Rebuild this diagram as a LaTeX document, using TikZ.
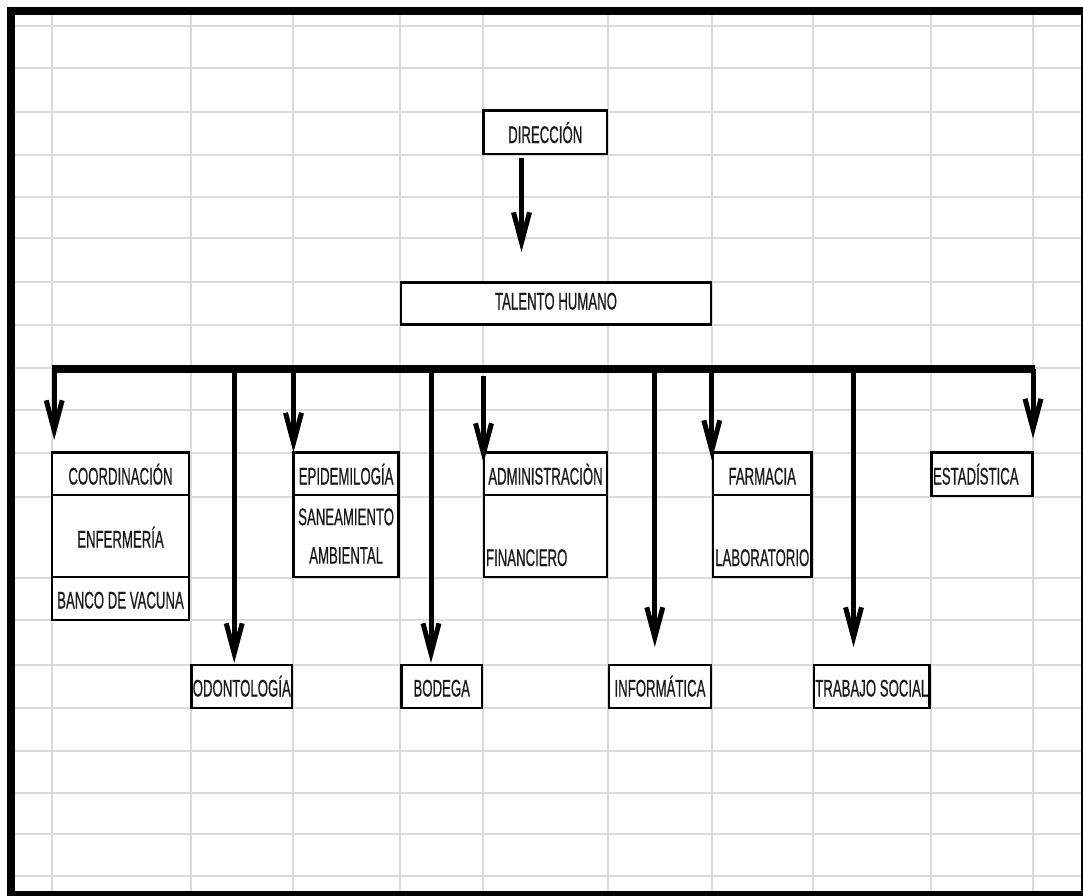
\documentclass[tikz,border=0pt]{standalone}
\usepackage{fontspec}
\newfontfamily\nar[FakeStretch=0.55,FakeBold=0.5]{Liberation Sans}
\usetikzlibrary{arrows.meta,calc}
\begin{document}
\begin{tikzpicture}[x=1pt,y=-1pt,
  gridline/.style={draw=black!14, line width=1.4pt},
  frame/.style={draw=black, line width=8pt},
  bx/.style={draw=black, line width=2.8pt, fill=white, inner sep=0pt, outer sep=0pt,
    anchor=north west, font=\nar\fontsize{24pt}{28.8pt}\selectfont, text=black!90},
  arr/.style={draw=black, line width=5pt, -{Straight Barb[length=30pt,width=16pt,sharp]}},
  bus/.style={draw=black, line width=7.5pt}
]
\useasboundingbox (0,0) rectangle (1083,895);
\clip (0,0) rectangle (1083,895);
\fill[white] (0,0) rectangle (1083,895);

% spreadsheet grid
\foreach \gx in {52,191,293,400,483,608,712,813,931,1033}
  \draw[gridline] (\gx,15) -- (\gx,891);
\foreach \gy in {26,68,112,155,197,238,282,325,368,410,453,497,578,620,665,708,751,793,834,876}
  \draw[gridline] (15,\gy) -- (1081,\gy);

% boxes
\node[bx, minimum width=123.5pt, text height=32.5pt, text depth=11pt] (dir) at (483.5,110.5) {DIRECCIÓN};
\node[bx, minimum width=310pt, text height=27pt, text depth=15pt] (th) at (401,282.5) {TALENTO HUMANO};

\node[bx, minimum width=137pt, text height=32pt, text depth=10.5pt] (coord) at (52,452.5) {COORDINACIÓN};
\node[bx, minimum width=137pt, text height=52.5pt, text depth=29.5pt] (enf) at (52,495) {ENFERMERÍA};
\node[bx, minimum width=137pt, text height=31.5pt, text depth=11.5pt] (banco) at (52,577) {BANCO DE VACUNA};

\node[bx, minimum width=104.7pt, text height=32pt, text depth=10.5pt] (epi) at (293.8,452.5) {EPIDEMILOGÍA};
\node[bx, minimum width=104.7pt, minimum height=82pt, align=center,
  font=\nar\fontsize{24pt}{38.5pt}\selectfont] (san) at (293.8,495) {SANEAMIENTO\\AMBIENTAL};

\node[bx, minimum width=123pt, text height=32pt, text depth=10.5pt] (adm) at (484,452.5) {ADMINISTRACIÒN};
\node[bx, text height=71pt, text depth=11pt] (fin) at (484,495) {\makebox[123pt][l]{\hspace{2pt}FINANCIERO}};

\node[bx, minimum width=98.5pt, text height=32pt, text depth=10.5pt] (farm) at (713,452.5) {FARMACIA};
\node[bx, minimum width=98.5pt, text height=71pt, text depth=11pt] (lab) at (713,495) {LABORATORIO};

\node[bx, text height=32pt, text depth=11.5pt] (est) at (931.5,452.5) {\makebox[101pt][l]{\hspace{1.5pt}ESTADÍSTICA}};

\node[bx, minimum width=100.5pt, text height=31.5pt, text depth=11.5pt] (odo) at (191.5,665) {ODONTOLOGÍA};
\node[bx, minimum width=80.5pt, text height=31.5pt, text depth=11.5pt] (bod) at (401.5,665) {BODEGA};
\node[bx, minimum width=102pt, text height=31.5pt, text depth=11.5pt] (inf) at (609,665) {INFORMÁTICA};
\node[bx, minimum width=115.5pt, text height=31.5pt, text depth=11.5pt] (tra) at (814,665) {TRABAJO SOCIAL};

% connector direccion -> talento humano
\draw[arr] ([shift={(-23.75,4)}]dir.south) -- ([shift={(-34.5,-30.5)}]th.north);

% distribution bus
\coordinate (busL) at (51.7,369);
\coordinate (busR) at (1035.3,369);
\draw[bus] (busL) -- (busR);

\coordinate (b1) at (54.2,369);
\coordinate (b2) at (234.2,369);
\coordinate (b3) at (293.5,369);
\coordinate (b4) at (431,369);
\coordinate (b5) at (483.5,376);
\coordinate (b6) at (654.8,369);
\coordinate (b7) at (711.8,369);
\coordinate (b8) at (853.5,369);
\coordinate (b9) at (1033,369);

\draw[arr] (b1) -- ($(b1 |- coord.north)+(0,-12.5)$);
\draw[arr] (b2) -- ($(b2 |- odo.north)+(0,-2)$);
\draw[arr] (b3) -- ($(b3 |- epi.north)+(0,0)$);
\draw[arr] (b4) -- ($(b4 |- bod.north)+(0,-2)$);
\draw[arr] (b5) -- ($(b5 |- adm.north)+(0,10.5)$);
\draw[arr] (b6) -- ($(b6 |- inf.north)+(0,-18)$);
\draw[arr] (b7) -- ($(b7 |- farm.north)+(0,7.5)$);
\draw[arr] (b8) -- ($(b8 |- tra.north)+(0,-18)$);
\draw[arr] (b9) -- ($(b9 |- est.north)+(0,-14)$);

% outer frame
\draw[frame] (11,11.25) rectangle (1085,895);
\end{tikzpicture}
\end{document}
